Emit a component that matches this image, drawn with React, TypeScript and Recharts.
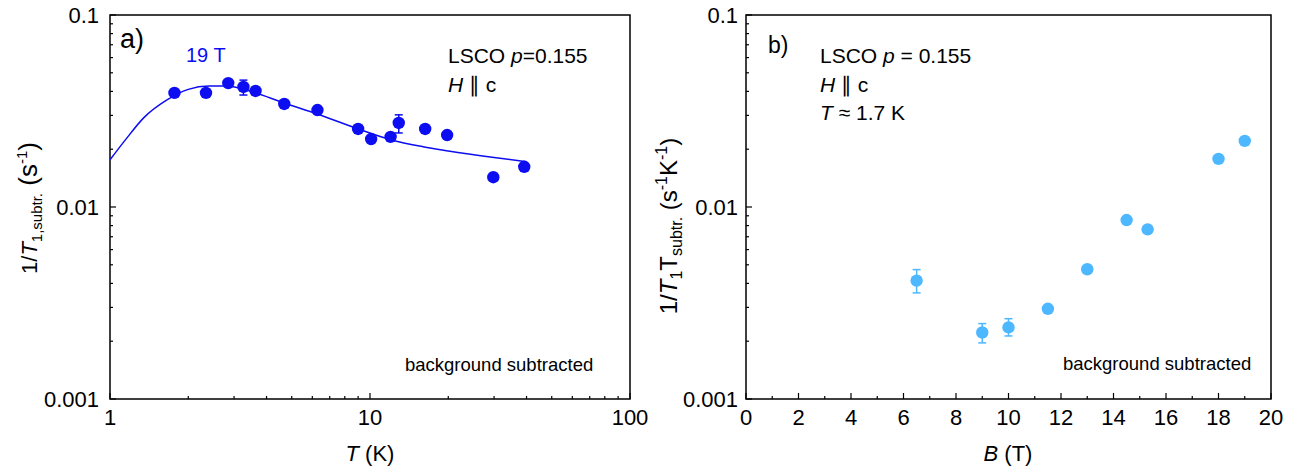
import React from "react";
import { ScatterChart, Scatter, XAxis, YAxis, ErrorBar, ReferenceArea } from "recharts";

// panel a) relaxation rate vs temperature, 19 T
const tempK = [1.77, 2.34, 2.85, 3.26, 3.63, 4.68, 6.28, 9.0, 10.1, 12.0, 12.9, 16.3, 19.8, 29.8, 39.2];
const rateA = [0.0393, 0.0393, 0.0442, 0.0422, 0.0402, 0.0344, 0.032, 0.0255, 0.0226, 0.0232, 0.0274, 0.0255, 0.0237, 0.0143, 0.0162];
const errLowA = [null, null, null, 0.0383, null, null, null, null, null, null, 0.0243, null, null, null, null];
const errHighA = [null, null, null, 0.0458, null, null, null, null, null, null, 0.0302, null, null, null, null];

// fit curve
const fitT = [1, 1.15, 1.35, 1.65, 2, 2.4, 2.8, 3.4, 4.7, 6.3, 9, 12, 16, 20, 30, 40];
const fitRate = [0.0176, 0.0225, 0.0292, 0.036, 0.041, 0.0427, 0.0427, 0.0404, 0.0347, 0.0304, 0.0255, 0.0224, 0.0206, 0.0196, 0.0181, 0.0172];

// panel b) rate / T vs field at 1.7 K
const fieldB = [6.5, 9, 10, 11.5, 13, 14.5, 15.3, 18, 19];
const rateB = [0.00413, 0.00222, 0.00236, 0.00295, 0.00474, 0.00855, 0.00765, 0.0178, 0.0221];
const errLowB = [0.00357, 0.00196, 0.00213, null, null, null, null, null, null];
const errHighB = [0.00472, 0.00247, 0.00262, null, null, null, null, null, null];

const yMajor = [0.001, 0.01, 0.1];
const yMinor = [0.002, 0.003, 0.004, 0.005, 0.006, 0.007, 0.008, 0.009, 0.02, 0.03, 0.04, 0.05, 0.06, 0.07, 0.08, 0.09];
const xMajorA = [1, 10, 100];
const xMinorA = [2, 3, 4, 5, 6, 7, 8, 9, 20, 30, 40, 50, 60, 70, 80, 90];
const xMajorB = [0, 2, 4, 6, 8, 10, 12, 14, 16, 18, 20];
const xMinorB = [1, 3, 5, 7, 9, 11, 13, 15, 17, 19];

const FONT = "'Liberation Sans', Arial, sans-serif";
const BLUE = "#0d0df2";
const LIGHT = "#4db8ff";

const withErr = (xs: number[], ys: number[], lo: (number | null)[], hi: (number | null)[]) =>
  xs.map((x, i) => ({
    x,
    y: ys[i],
    err: [lo[i] == null ? 0 : ys[i] - (lo[i] as number), hi[i] == null ? 0 : (hi[i] as number) - ys[i]],
  }));

const dataA = withErr(tempK, rateA, errLowA, errHighA);
const fitData = fitT.map((x, i) => ({ x, y: fitRate[i] }));
const dataB = withErr(fieldB, rateB, errLowB, errHighB);

const isIn = (list: number[], v: number) => list.some((m) => Math.abs(m - v) < 1e-9);

// y ticks: tick props x sits on the plot's left edge (tickSize/tickMargin are 0)
const yTick = (gap: number) => (props: any) => {
  const { x, y, payload } = props;
  const major = isIn(yMajor, payload.value);
  return (
    <g>
      <line x1={x} y1={y} x2={x + (major ? 6 : 3)} y2={y} stroke="#000" strokeWidth={1.2} />
      {major && (
        <text x={x - gap} y={y + 8} textAnchor="end" fontSize={22} fontFamily={FONT} fill="#000">
          {String(payload.value)}
        </text>
      )}
    </g>
  );
};

const xTick = (majors: number[]) => (props: any) => {
  const { x, y, payload } = props;
  const major = isIn(majors, payload.value);
  return (
    <g>
      <line x1={x} y1={y} x2={x} y2={y - (major ? 6 : 3)} stroke="#000" strokeWidth={1.2} />
      {major && (
        <text x={x} y={y + 26} textAnchor="middle" fontSize={22} fontFamily={FONT} fill="#000">
          {String(payload.value)}
        </text>
      )}
    </g>
  );
};

const dot = (color: string) => (p: any) => <circle cx={p.cx} cy={p.cy} r={6.2} fill={color} />;

export default function App() {
  return (
    <div style={{ position: "absolute", left: 0, top: 0, width: 1295, height: 475, background: "#fff", fontFamily: FONT }}>
      <div style={{ position: "absolute", left: 0, top: 0 }}>
        <ScatterChart width={650} height={475} margin={{ top: 15, right: 20, bottom: 46, left: 50 }}>
          <XAxis
            dataKey="x"
            type="number"
            scale="log"
            domain={[1, 100]}
            allowDataOverflow
            ticks={[...xMajorA, ...xMinorA]}
            interval={0}
            tick={xTick(xMajorA)}
            tickSize={0}
            tickMargin={0}
            tickLine={false}
            axisLine={false}
            height={30}
          />
          <YAxis
            dataKey="y"
            type="number"
            scale="log"
            domain={[0.001, 0.1]}
            allowDataOverflow
            ticks={[...yMajor, ...yMinor]}
            interval={0}
            tick={yTick(11)}
            tickSize={0}
            tickMargin={0}
            tickLine={false}
            axisLine={false}
            width={60}
          />
          <ReferenceArea x1={1} x2={100} y1={0.001} y2={0.1} fill="none" stroke="#000" strokeWidth={1.5} strokeOpacity={1} />
          <Scatter
            data={fitData}
            line={{ stroke: BLUE, strokeWidth: 1.5 }}
            lineJointType="monotoneX"
            shape={() => <g />}
            isAnimationActive={false}
          />
          <Scatter data={dataA} fill={BLUE} shape={dot(BLUE)} isAnimationActive={false}>
            <ErrorBar dataKey="err" direction="y" width={4} stroke={BLUE} strokeWidth={1.5} isAnimationActive={false} />
          </Scatter>
        </ScatterChart>
      </div>
      <div style={{ position: "absolute", left: 650, top: 0 }}>
        <ScatterChart width={645} height={475} margin={{ top: 15, right: 24, bottom: 46, left: 36 }}>
          <XAxis
            dataKey="x"
            type="number"
            domain={[0, 20]}
            allowDataOverflow
            ticks={[...xMajorB, ...xMinorB]}
            interval={0}
            tick={xTick(xMajorB)}
            tickSize={0}
            tickMargin={0}
            tickLine={false}
            axisLine={false}
            height={30}
          />
          <YAxis
            dataKey="y"
            type="number"
            scale="log"
            domain={[0.001, 0.1]}
            allowDataOverflow
            ticks={[...yMajor, ...yMinor]}
            interval={0}
            tick={yTick(8)}
            tickSize={0}
            tickMargin={0}
            tickLine={false}
            axisLine={false}
            width={60}
          />
          <ReferenceArea x1={0} x2={20} y1={0.001} y2={0.1} fill="none" stroke="#000" strokeWidth={1.5} strokeOpacity={1} />
          <Scatter data={dataB} fill={LIGHT} shape={dot(LIGHT)} isAnimationActive={false}>
            <ErrorBar dataKey="err" direction="y" width={4} stroke={LIGHT} strokeWidth={1.5} isAnimationActive={false} />
          </Scatter>
        </ScatterChart>
      </div>
      <svg width={1295} height={475} style={{ position: "absolute", left: 0, top: 0, pointerEvents: "none" }} fontFamily={FONT}>
        {/* panel a */}
        <text x={120} y={48} fontSize={27}>a)</text>
        <text x={186} y={62} fontSize={20} fill={BLUE}>19 T</text>
        <text x={448} y={63} fontSize={21}>
          LSCO <tspan fontStyle="italic">p</tspan>=0.155
        </text>
        <text x={448} y={92} fontSize={21}>
          <tspan fontStyle="italic">H</tspan> ∥ c
        </text>
        <text x={405} y={371} fontSize={18.5}>background subtracted</text>
        <text x={370} y={461} fontSize={22} textAnchor="middle">
          <tspan fontStyle="italic">T</tspan> (K)
        </text>
        <text x={37} y={208} fontSize={22} textAnchor="middle" transform="rotate(-90 37 208)">
          1/<tspan fontStyle="italic">T</tspan>
          <tspan fontSize={15} dy={5}>1,subtr.</tspan>
          <tspan fontSize={26} dy={-5}> (s</tspan>
          <tspan fontSize={15} dy={-10}>-1</tspan>
          <tspan fontSize={26} dy={10}>)</tspan>
        </text>
        {/* panel b */}
        <text x={768} y={53} fontSize={23}>b)</text>
        <text x={820} y={63} fontSize={21}>
          LSCO <tspan fontStyle="italic">p</tspan> = 0.155
        </text>
        <text x={820} y={92} fontSize={21}>
          <tspan fontStyle="italic">H</tspan> ∥ c
        </text>
        <text x={820} y={120} fontSize={21}>
          <tspan fontStyle="italic">T</tspan> ≈ 1.7 K
        </text>
        <text x={1063} y={370} fontSize={18.5}>background subtracted</text>
        <text x={1008} y={461} fontSize={22} textAnchor="middle">
          <tspan fontStyle="italic">B</tspan> (T)
        </text>
        <text x={677} y={226} fontSize={24} textAnchor="middle" transform="rotate(-90 677 226)">
          1/<tspan fontStyle="italic">T</tspan>
          <tspan fontSize={16} dy={5}>1</tspan>
          <tspan dy={-5}>T</tspan>
          <tspan fontSize={16} dy={5}>subtr.</tspan>
          <tspan dy={-5}> (s</tspan>
          <tspan fontSize={16} dy={-10}>-1</tspan>
          <tspan dy={10}>K</tspan>
          <tspan fontSize={16} dy={-10}>-1</tspan>
          <tspan dy={10}>)</tspan>
        </text>
      </svg>
    </div>
  );
}
